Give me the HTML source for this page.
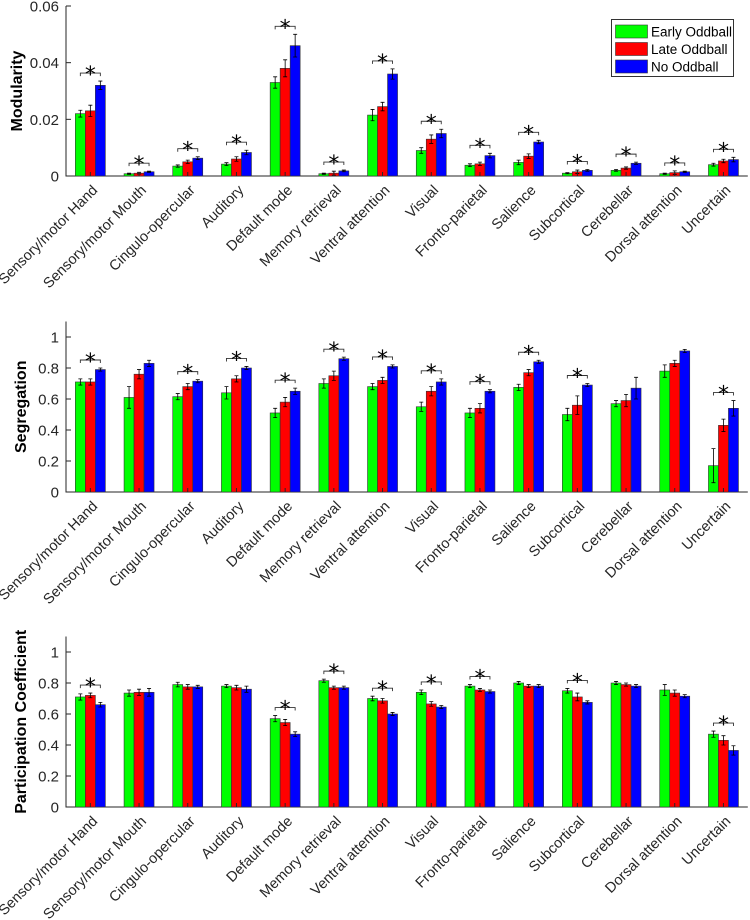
<!DOCTYPE html>
<html><head><meta charset="utf-8"><style>
body{margin:0;background:#fff;}
svg{display:block;font-family:"Liberation Sans",Arial,sans-serif;}
</style></head><body>
<svg id="chart" width="750" height="920"></svg>
<script>
const categories=["Sensory/motor Hand","Sensory/motor Mouth","Cingulo-opercular","Auditory","Default mode","Memory retrieval","Ventral attention","Visual","Fronto-parietal","Salience","Subcortical","Cerebellar","Dorsal attention","Uncertain"];
const seriesNames=["Early Oddball","Late Oddball","No Oddball"];
const modEarly=[0.022,0.0008,0.0035,0.0042,0.033,0.0008,0.0215,0.009,0.0038,0.0048,0.001,0.002,0.0008,0.004];
const modLate=[0.023,0.001,0.005,0.006,0.038,0.001,0.0245,0.013,0.0043,0.007,0.0015,0.0028,0.0012,0.0053];
const modNone=[0.032,0.0015,0.0063,0.0083,0.046,0.0018,0.036,0.015,0.0072,0.012,0.002,0.0045,0.0015,0.0058];
const modErrEarly=[0.0012,0.0002,0.0004,0.0005,0.002,0.0002,0.002,0.001,0.0005,0.0008,0.0002,0.0003,0.0002,0.0005];
const modErrLate=[0.002,0.0003,0.0006,0.0008,0.003,0.0007,0.0015,0.0015,0.0006,0.0008,0.0006,0.0004,0.0006,0.0006];
const modErrNone=[0.0015,0.0002,0.0005,0.0008,0.004,0.0003,0.0018,0.0015,0.0008,0.0006,0.0003,0.0004,0.0002,0.0008];
const modStars=[1,1,1,1,1,1,1,1,1,1,1,1,1,1];
const segEarly=[0.71,0.61,0.615,0.64,0.51,0.70,0.68,0.55,0.51,0.675,0.50,0.57,0.78,0.17];
const segLate=[0.71,0.76,0.68,0.73,0.58,0.75,0.72,0.65,0.54,0.77,0.56,0.59,0.83,0.43];
const segNone=[0.79,0.83,0.715,0.80,0.65,0.86,0.81,0.71,0.65,0.84,0.69,0.67,0.91,0.54];
const segErrEarly=[0.02,0.07,0.02,0.04,0.03,0.03,0.02,0.03,0.03,0.02,0.04,0.02,0.04,0.11];
const segErrLate=[0.02,0.03,0.02,0.02,0.03,0.03,0.02,0.03,0.03,0.02,0.06,0.04,0.02,0.04];
const segErrNone=[0.01,0.02,0.01,0.01,0.02,0.01,0.01,0.02,0.01,0.01,0.01,0.07,0.01,0.05];
const segStars=[1,0,1,1,1,1,1,1,1,1,1,0,0,1];
const pcEarly=[0.71,0.735,0.79,0.78,0.57,0.815,0.70,0.74,0.78,0.80,0.75,0.80,0.755,0.47];
const pcLate=[0.72,0.74,0.775,0.77,0.545,0.77,0.685,0.665,0.755,0.78,0.71,0.79,0.735,0.43];
const pcNone=[0.66,0.74,0.775,0.76,0.47,0.77,0.60,0.645,0.745,0.78,0.675,0.78,0.715,0.365];
const pcErrEarly=[0.02,0.02,0.015,0.01,0.02,0.01,0.015,0.015,0.01,0.01,0.015,0.01,0.035,0.02];
const pcErrLate=[0.015,0.02,0.015,0.015,0.02,0.01,0.015,0.015,0.01,0.01,0.025,0.01,0.02,0.03];
const pcErrNone=[0.015,0.025,0.01,0.02,0.015,0.01,0.01,0.01,0.01,0.01,0.01,0.01,0.01,0.03];
const pcStars=[1,0,0,0,1,1,1,1,1,0,1,0,0,1];
const modTicks=["0","0.02","0.04","0.06"];
const unitTicks=["0","0.2","0.4","0.6","0.8","1"];

const NS="http://www.w3.org/2000/svg";
const svg=document.getElementById('chart');
const colors=["#00ff00","#ff0000","#0000ff"];
function mk(tag,attrs,parent){const e=document.createElementNS(NS,tag);for(const k in attrs)e.setAttribute(k,attrs[k]);(parent||svg).appendChild(e);return e;}
const X0=66,GW=48.7,BW=10;
function xc(i){return X0+GW*(i+0.5);}

function panel(cfg){
  const g=mk('g',{});
  
  
  const y=v=>cfg.y0-(v/cfg.max)*(cfg.y0-cfg.top);
  const ax=mk('path',{d:`M${X0},${cfg.top}V${cfg.y0}H${X0+GW*14}`,stroke:'#262626',fill:'none','stroke-width':1},g);
  
  
  cfg.ticks.forEach(t=>{
    const v=parseFloat(t),yy=y(v);
    mk('line',{x1:X0,x2:X0+5,y1:yy,y2:yy,stroke:'#262626'},g);
    const tl=mk('text',{x:X0-7,y:yy+5.5,'text-anchor':'end','font-size':15,fill:'#262626'},g);
    tl.textContent=t;
    
    
  });
  const yl=mk('text',{transform:`translate(${cfg.labelX},${(cfg.top+cfg.y0)/2}) rotate(-90)`,'text-anchor':'middle','font-size':16,'font-weight':'bold',fill:'#000'},g);
  yl.textContent=cfg.label;
  
  
  categories.forEach((c,i)=>{
    const cx=xc(i);
    let maxTop=0;
    cfg.vals.forEach((arr,s)=>{
      const v=arr[i],e=cfg.errs[s][i];
      const bx=cx+(s-1)*BW-BW/2;
      const r=mk('rect',{x:bx,y:y(v),width:BW,height:cfg.y0-y(v),fill:colors[s],stroke:'#333','stroke-width':0.6},g);
      
      
      const ex=bx+BW/2;
      mk('path',{d:`M${ex},${y(v-e)}V${y(v+e)}M${ex-2},${y(v+e)}H${ex+2}M${ex-2},${y(v-e)}H${ex+2}`,stroke:'#000','stroke-width':0.8,fill:'none'},g);
      maxTop=Math.max(maxTop,v+e);
    });
    if(cfg.stars[i]){
      const by=y(maxTop)-8;
      const l=cx-BW,rr=cx+BW;
      const br=mk('path',{d:`M${l},${by+3}V${by}H${rr}V${by+3}`,stroke:'#333',fill:'none','stroke-width':0.9},g);
      
      
      const st=mk('text',{x:cx,y:by+9,'text-anchor':'middle','font-size':22,'font-family':'DejaVu Sans, sans-serif',fill:'#000'},g);
      st.textContent='*';
      
      
    }
    mk('line',{x1:cx,x2:cx,y1:cfg.y0,y2:cfg.y0-4,stroke:'#262626'},g);
    const lx=cx+8,ly=cfg.y0+15;
    const t=mk('text',{transform:`translate(${lx},${ly}) rotate(-45)`,'text-anchor':'end','font-size':14.5,fill:'#262626'},g);
    t.textContent=c;
    
    
  });
}
panel({name:'modularity',label:'Modularity',y0:176,top:6,max:0.06,ticks:modTicks,labelX:22,vals:[modEarly,modLate,modNone],errs:[modErrEarly,modErrLate,modErrNone],stars:modStars});
panel({name:'segregation',label:'Segregation',y0:492,top:321.5,max:1.1,ticks:unitTicks,labelX:26,vals:[segEarly,segLate,segNone],errs:[segErrEarly,segErrLate,segErrNone],stars:segStars});
panel({name:'participation',label:'Participation Coefficient',y0:807,top:636.5,max:1.1,ticks:unitTicks,labelX:26,vals:[pcEarly,pcLate,pcNone],errs:[pcErrEarly,pcErrLate,pcErrNone],stars:pcStars});

const lg=mk('g',{});


mk('rect',{x:611.5,y:19.5,width:122,height:57,fill:'#fff',stroke:'#333','stroke-width':1},lg);
seriesNames.forEach((n,s)=>{
  const yy=25+s*17.5;
  const p=mk('rect',{x:615.5,y:yy,width:32,height:13,fill:colors[s],stroke:'#333','stroke-width':0.6},lg);
  
  
  const t=mk('text',{x:651,y:yy+11.5,'font-size':13.5,fill:'#000'},lg);
  t.textContent=n;
  
  
});
</script>
</body></html>
